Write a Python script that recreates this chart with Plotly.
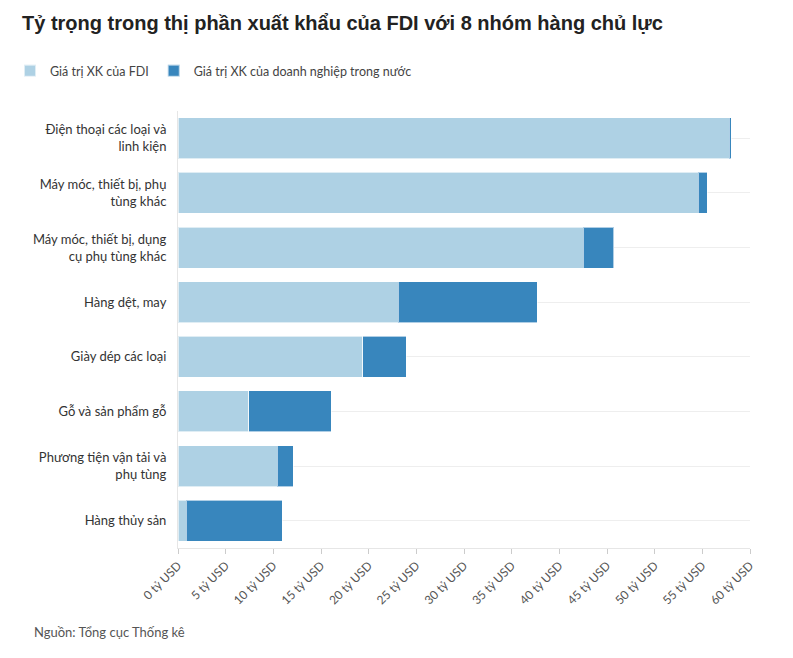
import plotly.graph_objects as go

categories = [
    "Điện thoại các loại và<br>linh kiện",
    "Máy móc, thiết bị, phụ<br>tùng khác",
    "Máy móc, thiết bị, dụng<br>cụ phụ tùng khác",
    "Hàng dệt, may",
    "Giày dép các loại",
    "Gỗ và sản phẩm gỗ",
    "Phương tiện vận tải và<br>phụ tùng",
    "Hàng thủy sản",
]
fdi_values = [57.8, 54.55, 42.5, 23.1, 19.4, 7.4, 10.4, 0.87]
domestic_values = [0.25, 0.96, 3.2, 14.6, 4.55, 8.65, 1.67, 10.05]

series_names = ["Giá trị XK của FDI", "Giá trị XK của doanh nghiệp trong nước"]
tick_vals = list(range(0, 61, 5))
tick_text = [f"{v} tỷ USD" for v in tick_vals]

font_family = "Lato, 'Noto Sans', sans-serif"

fig = go.Figure()
fig.add_trace(go.Bar(
    y=categories, x=fdi_values, orientation="h", name=series_names[0],
    marker=dict(color="#aed1e4", line=dict(color="rgba(255,255,255,0.6)", width=1)),
))
fig.add_trace(go.Bar(
    y=categories, x=domestic_values, orientation="h", name=series_names[1],
    marker=dict(color="#3886bd", line=dict(color="rgba(255,255,255,0.6)", width=1)),
))

T, B = 111, 110
plot_h = 658 - T - B

fig.update_layout(
    barmode="stack",
    bargap=0.25,
    width=793, height=658,
    margin=dict(l=178, r=43, t=T, b=B, autoexpand=False),
    paper_bgcolor="white", plot_bgcolor="white",
    font=dict(family=font_family, size=12, color="#333333"),
    title=dict(
        text="<b>Tỷ trọng trong thị phần xuất khẩu của FDI với 8 nhóm hàng chủ lực</b>",
        x=22 / 793, xanchor="left", xref="container",
        y=1 - 23 / 658, yanchor="middle", yref="container",
        font=dict(family="'Liberation Sans', Arial, sans-serif", size=20, color="#222222"),
    ),
    legend=dict(
        orientation="h", x=(10 - 178) / 572, xanchor="left",
        y=(658 - B - 71) / plot_h, yanchor="middle",
        font=dict(size=12.5, color="#444444"), traceorder="normal",
        itemwidth=30, itemsizing="constant",
    ),
    xaxis=dict(
        range=[0, 60], tickvals=tick_vals, ticktext=tick_text, tickangle=-45,
        showgrid=False, zeroline=False, showline=True, linecolor="#e6e6e6",
        ticks="outside", ticklen=5, tickcolor="#cccccc",
        tickfont=dict(size=12, color="#555555"),
    ),
    yaxis=dict(
        autorange="reversed", showgrid=True, gridcolor="#eeeeee",
        showline=True, linecolor="#e6e6e6", ticks="",
        tickfont=dict(size=13, color="#333333"), ticklabelstandoff=8,
    ),
    annotations=[dict(
        text="Nguồn: Tổng cục Thống kê", x=(32 - 178) / 572, xref="paper", xanchor="left",
        y=(658 - B - 632) / plot_h, yref="paper", yanchor="middle", showarrow=False,
        font=dict(size=13, color="#555555"),
    )],
)

fig.write_html("out.html")
